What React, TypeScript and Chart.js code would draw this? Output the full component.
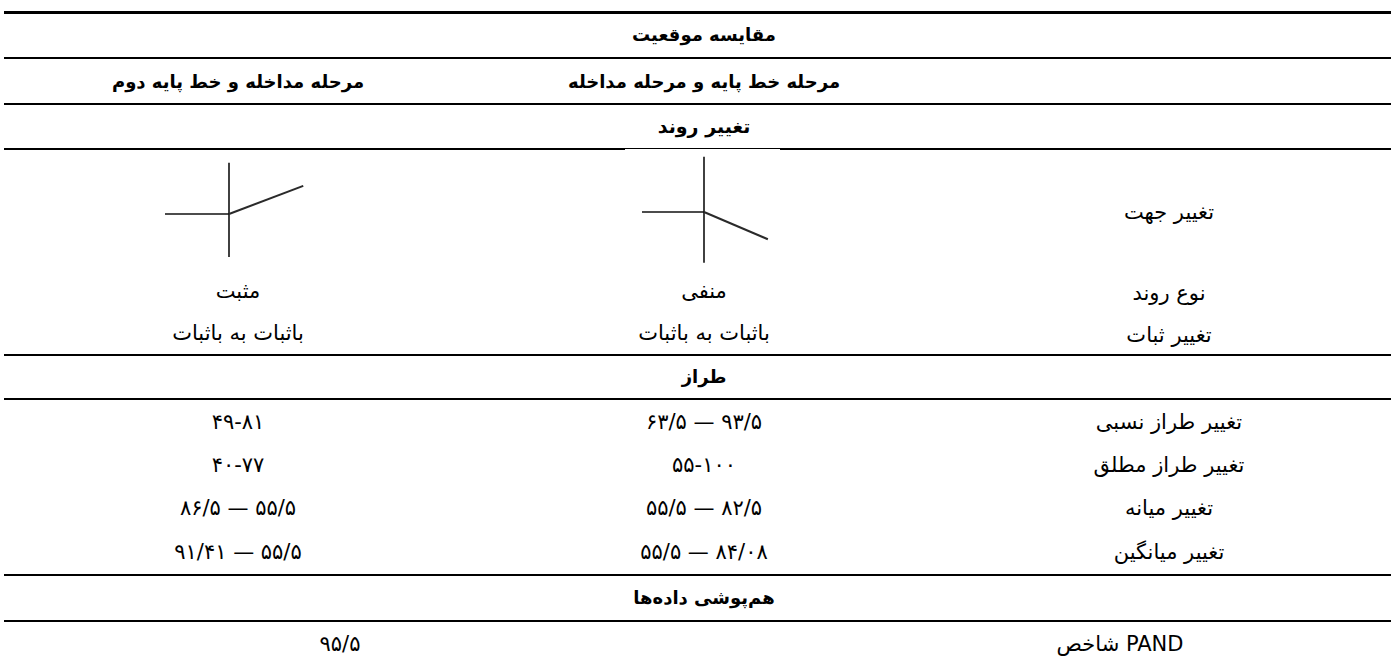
import React, { useEffect, useRef } from "react";
import { Chart, registerables } from "chart.js";

Chart.register(...registerables);

// ---------- data ----------
const title = "مقایسه موقعیت";
const phaseColumns = ["مرحله مداخله و خط پایه دوم", "مرحله خط پایه و مرحله مداخله"];
const sectionTrend = "تغییر روند";
const sectionLevel = "طراز";
const sectionOverlap = "هم\u200cپوشی داده\u200cها";

const trendRowLabels = ["تغییر جهت", "نوع روند", "تغییر ثبات"];
const trendTypeValues = ["مثبت", "منفی"];
const stabilityValues = ["باثبات به باثبات", "باثبات به باثبات"];

const levelRowLabels = ["تغییر طراز نسبی", "تغییر طراز مطلق", "تغییر میانه", "تغییر میانگین"];
const levelValuesSecond = ["۴۹-۸۱", "۴۰-۷۷", "۸۶/۵ — ۵۵/۵", "۹۱/۴۱ — ۵۵/۵"];
const levelValuesFirst = ["۶۳/۵ — ۹۳/۵", "۵۵-۱۰۰", "۵۵/۵ — ۸۲/۵", "۵۵/۵ — ۸۴/۰۸"];

const overlapLabel = "شاخص PAND";
const overlapValue = "۹۵/۵";

// trend diagrams (schematic slopes): baseline phase, intervention phase, phase-change line
const posBaseline = [{ x: -1, y: 0 }, { x: 0, y: 0 }];
const posIntervention = [{ x: 0, y: 0 }, { x: 1.16, y: 0.44 }];
const posPhaseLine = [{ x: 0, y: -0.67 }, { x: 0, y: 0.8 }];

const negBaseline = [{ x: -1, y: 0 }, { x: 0, y: 0 }];
const negIntervention = [{ x: 0, y: 0 }, { x: 1.03, y: -0.44 }];
const negPhaseLine = [{ x: 0, y: -0.82 }, { x: 0, y: 0.89 }];

// ---------- layout ----------
const FONT = "'DejaVu Sans', 'Liberation Sans', sans-serif";
const colX = [238, 704, 1169];
const ruleYs = [57, 103, 148, 354, 398, 574, 620];

function TrendChart(props: {
  baseline: { x: number; y: number }[];
  intervention: { x: number; y: number }[];
  phaseLine: { x: number; y: number }[];
  left: number;
  top: number;
  width: number;
  height: number;
}) {
  const ref = useRef<HTMLCanvasElement | null>(null);
  useEffect(() => {
    if (!ref.current) return;
    const ds = (data: { x: number; y: number }[], w: number, c: string) => ({
      data,
      borderColor: c,
      borderWidth: w,
      pointRadius: 0,
      fill: false,
      tension: 0,
    });
    const chart = new Chart(ref.current, {
      type: "line",
      data: {
        datasets: [
          ds(props.baseline, 1.6, "#111"),
          ds(props.intervention, 2, "#2a2a2a"),
          ds(props.phaseLine, 1.6, "#111"),
        ],
      },
      options: {
        animation: false,
        responsive: false,
        devicePixelRatio: 1,
        layout: { padding: 0 },
        plugins: { legend: { display: false }, tooltip: { enabled: false }, title: { display: false } },
        scales: {
          x: { type: "linear", min: -1.5, max: 1.5, display: false },
          y: { type: "linear", min: -1, max: 1, display: false },
        },
      },
    });
    return () => chart.destroy();
  }, []);
  return (
    <canvas
      ref={ref}
      width={props.width}
      height={props.height}
      style={{ position: "absolute", left: props.left, top: props.top, width: props.width, height: props.height }}
    />
  );
}

function Txt(props: { x: number; y: number; text: string; bold?: boolean; dir?: "rtl" | "ltr"; size?: number }) {
  return (
    <div
      dir={props.dir || "rtl"}
      style={{
        position: "absolute",
        left: props.x,
        top: props.y,
        transform: "translate(-50%, -50%)",
        whiteSpace: "nowrap",
        fontFamily: FONT,
        fontSize: props.size || (props.bold ? 18 : 21),
        fontWeight: props.bold ? 700 : 400,
        lineHeight: 1,
        color: "#000",
      }}
    >
      {props.text}
    </div>
  );
}

function Rule(props: { y: number; h?: number; x0?: number; x1?: number }) {
  const x0 = props.x0 ?? 4;
  const x1 = props.x1 ?? 1391;
  return (
    <div style={{ position: "absolute", left: x0, top: props.y, width: x1 - x0, height: props.h ?? 2, background: "#000" }} />
  );
}

export default function App() {
  const levelYs = [422, 465, 508, 552];
  return (
    <div style={{ position: "absolute", left: 0, top: 0, width: 1391, height: 660, background: "#fff", overflow: "hidden" }}>
      <Rule y={11} h={3} />
      {ruleYs.map((y, i) =>
        i === 2 ? (
          <React.Fragment key={i}>
            <Rule y={y} x0={4} x1={625} />
            <Rule y={y} h={1} x0={625} x1={780} />
            <Rule y={y} x0={780} x1={1391} />
          </React.Fragment>
        ) : (
          <Rule key={i} y={y} />
        )
      )}

      <Txt x={704} y={35} text={title} bold />
      <Txt x={colX[0]} y={82} text={phaseColumns[0]} bold />
      <Txt x={colX[1]} y={82} text={phaseColumns[1]} bold />

      <Txt x={704} y={126} text={sectionTrend} bold size={19} />
      <TrendChart baseline={posBaseline} intervention={posIntervention} phaseLine={posPhaseLine} left={133} top={150} width={192} height={128} />
      <TrendChart baseline={negBaseline} intervention={negIntervention} phaseLine={negPhaseLine} left={611} top={150} width={186} height={124} />
      <Txt x={colX[2]} y={212} text={trendRowLabels[0]} />

      <Txt x={colX[2]} y={293} text={trendRowLabels[1]} />
      <Txt x={colX[0]} y={291} text={trendTypeValues[0]} />
      <Txt x={colX[1]} y={291} text={trendTypeValues[1]} />

      <Txt x={colX[2]} y={335} text={trendRowLabels[2]} />
      <Txt x={colX[0]} y={333} text={stabilityValues[0]} />
      <Txt x={colX[1]} y={333} text={stabilityValues[1]} />

      <Txt x={704} y={377} text={sectionLevel} bold />
      {levelRowLabels.map((l, i) => (
        <React.Fragment key={i}>
          <Txt x={colX[2]} y={levelYs[i]} text={l} />
          <Txt x={colX[0]} y={levelYs[i]} text={levelValuesSecond[i]} dir="ltr" />
          <Txt x={colX[1]} y={levelYs[i]} text={levelValuesFirst[i]} dir="ltr" />
        </React.Fragment>
      ))}

      <Txt x={704} y={598} text={sectionOverlap} bold />
      <Txt x={340} y={644} text={overlapValue} dir="ltr" />
      <Txt x={1120} y={644} text={overlapLabel} dir="ltr" />
    </div>
  );
}
